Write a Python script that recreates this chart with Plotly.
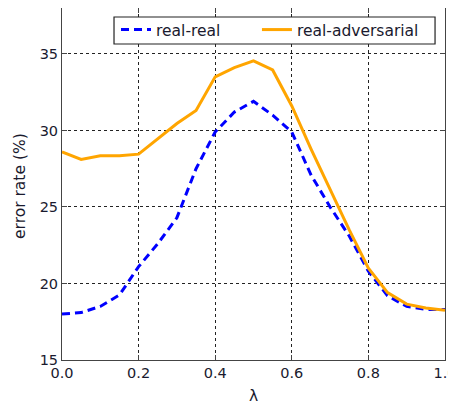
import plotly.graph_objects as go

lam = [0.0, 0.05, 0.1, 0.15, 0.2, 0.25, 0.3, 0.35, 0.4, 0.45, 0.5, 0.55, 0.6, 0.65, 0.7, 0.75, 0.8, 0.85, 0.9, 0.95, 1.0]
real_real = [18.0, 18.1, 18.5, 19.25, 21.1, 22.6, 24.3, 27.5, 29.9, 31.2, 31.9, 31.0, 29.9, 27.1, 25.0, 23.1, 20.8, 19.2, 18.5, 18.3, 18.3]
real_adv = [28.6, 28.1, 28.35, 28.35, 28.45, 29.45, 30.45, 31.3, 33.5, 34.1, 34.55, 33.95, 31.6, 28.8, 26.1, 23.5, 21.0, 19.4, 18.65, 18.4, 18.25]

txt = "#1a1a2e"
tick_font = dict(family="DejaVu Sans", size=14.5, color=txt)
big_font = dict(family="DejaVu Sans", size=15.5, color=txt)

fig = go.Figure()
fig.add_trace(go.Scatter(x=lam, y=real_real, mode="lines", name="real-real", legend="legend",
                         line=dict(color="#0000ff", width=3, dash="8px,5px")))
fig.add_trace(go.Scatter(x=lam, y=real_adv, mode="lines", name="real-adversarial", legend="legend2",
                         line=dict(color="#ffa500", width=3)))

axis_common = dict(showline=True, linecolor="#444444", linewidth=1, mirror="ticks",
                   ticks="inside", ticklen=5, tickcolor="#444444",
                   showgrid=True, gridcolor="#222222", griddash="dot", gridwidth=1,
                   zeroline=False, tickfont=tick_font, automargin=False,
                   ticklabeloverflow="allow")

leg_common = dict(orientation="h", yanchor="middle", y=0.9375, xanchor="left",
                  bgcolor="rgba(0,0,0,0)", borderwidth=0, font=big_font)

fig.update_layout(
    width=448, height=396,
    margin=dict(l=54, r=11, t=0, b=44),
    paper_bgcolor="white", plot_bgcolor="white",
    font=tick_font,
    xaxis=dict(range=[0, 1], tickvals=[0, 0.2, 0.4, 0.6, 0.8, 1.0], tickformat=".1f",
               **axis_common),
    yaxis=dict(range=[15, 38], tickvals=[15, 20, 25, 30, 35], **axis_common),
    legend=dict(x=0.141, **leg_common),
    legend2=dict(x=0.509, **leg_common),
    showlegend=True,
    shapes=[dict(type="rect", xref="paper", yref="paper", x0=0.1358, x1=0.974,
                 y0=0.8977, y1=0.9744, line=dict(color="#222222", width=1.2),
                 fillcolor="white", layer="above")],
    annotations=[
        dict(text="error rate (%)", xref="paper", yref="paper", x=-0.11, y=0.494,
             textangle=-90, showarrow=False, xanchor="center", yanchor="middle",
             font=big_font),
        dict(text="λ", xref="paper", yref="paper", x=0.499, y=-0.102,
             showarrow=False, xanchor="center", yanchor="middle", font=big_font),
    ],
)

fig.write_html("out.html")
